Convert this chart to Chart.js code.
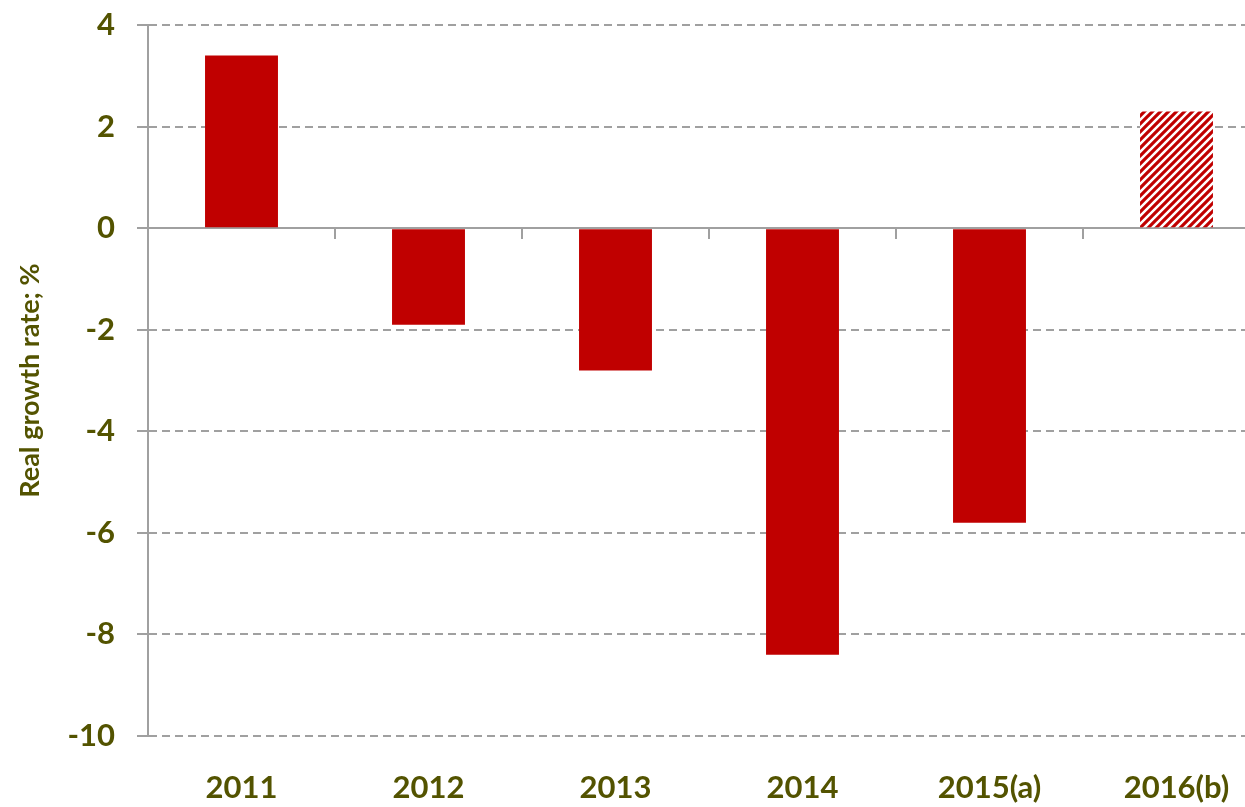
<!DOCTYPE html>
<html>
<head>
<meta charset="utf-8">
<script src="https://cdn.jsdelivr.net/npm/chart.js@4"></script>
<style>
  body { margin: 0; overflow: hidden; background: #fff; }
  #wrap { width: 1272px; height: 807px; }
</style>
</head>
<body>
<div id="wrap"><canvas id="chart" width="1272" height="807"></canvas></div>
<script>
// data
const years = ['2011', '2012', '2013', '2014', '2015(a)', '2016(b)'];
const growth = [3.4, -1.9, -2.8, -8.4, -5.8, 2.3];
const yMin = -10, yMax = 4, yStep = 2;

const red = '#C00000';
const olive = '#535300';
const gridGrey = '#a0a0a0';

// hatched fill for the forecast bar
function makeHatch() {
  const s = 8;
  const c = document.createElement('canvas');
  c.width = s; c.height = s;
  const g = c.getContext('2d');
  g.fillStyle = '#fff';
  g.fillRect(0, 0, s, s);
  g.strokeStyle = red;
  g.lineWidth = 3.1;
  g.beginPath();
  g.moveTo(-s, s); g.lineTo(s, -s);
  g.moveTo(0, s); g.lineTo(s, 0);
  g.moveTo(0, 2 * s); g.lineTo(2 * s, 0);
  g.stroke();
  return g.createPattern(c, 'repeat');
}
const hatch = makeHatch();

const ctx = document.getElementById('chart');
new Chart(ctx, {
  type: 'bar',
  data: {
    labels: years,
    datasets: [{
      data: growth,
      backgroundColor: years.map((y, i) => i === years.length - 1 ? hatch : red),
      borderWidth: 0,
      categoryPercentage: 1,
      barPercentage: 0.39
    }]
  },
  options: {
    responsive: false,
    animation: false,
    layout: { autoPadding: false, padding: { top: 25, right: 2, bottom: 0, left: 0 } },
    plugins: { legend: { display: false }, tooltip: { enabled: false } },
    scales: {
      x: {
        position: 'bottom',
        grid: { display: false, drawTicks: false },
        border: { display: false },
        ticks: {
          color: olive,
          padding: 33,
          font: { family: 'Lato', size: 31, weight: 'bold' }
        },
        afterFit: s => { s.height = 71; }
      },
      // zero line tick marks between categories
      xZero: {
        type: 'category',
        position: { y: 0 },
        offset: true,
        grid: { offset: true, drawOnChartArea: false, color: gridGrey, lineWidth: 2, tickLength: 11 },
        border: { display: false },
        ticks: { display: false },
        afterFit: s => { s.height = 0; }
      },
      y: {
        min: yMin,
        max: yMax,
        ticks: {
          stepSize: yStep,
          color: olive,
          padding: 22,
          // small line height so the first label does not push the plot down
          font: { family: 'Lato', size: 31, weight: 'bold', lineHeight: 0.2 }
        },
        grid: {
          color: gridGrey,
          lineWidth: 2,
          tickLength: 11
        },
        border: {
          display: true,
          color: gridGrey,
          width: 2,
          dash: c => (c.tick && c.tick.value !== 0) ? [8, 5] : []
        },
        title: {
          display: true,
          text: 'Real growth rate; %',
          color: olive,
          padding: { top: 14, bottom: 0 },
          font: { family: 'Lato', size: 27, weight: 'bold' }
        },
        afterFit: s => { s.width = 148; }
      }
    }
  }
});
</script>
</body>
</html>
